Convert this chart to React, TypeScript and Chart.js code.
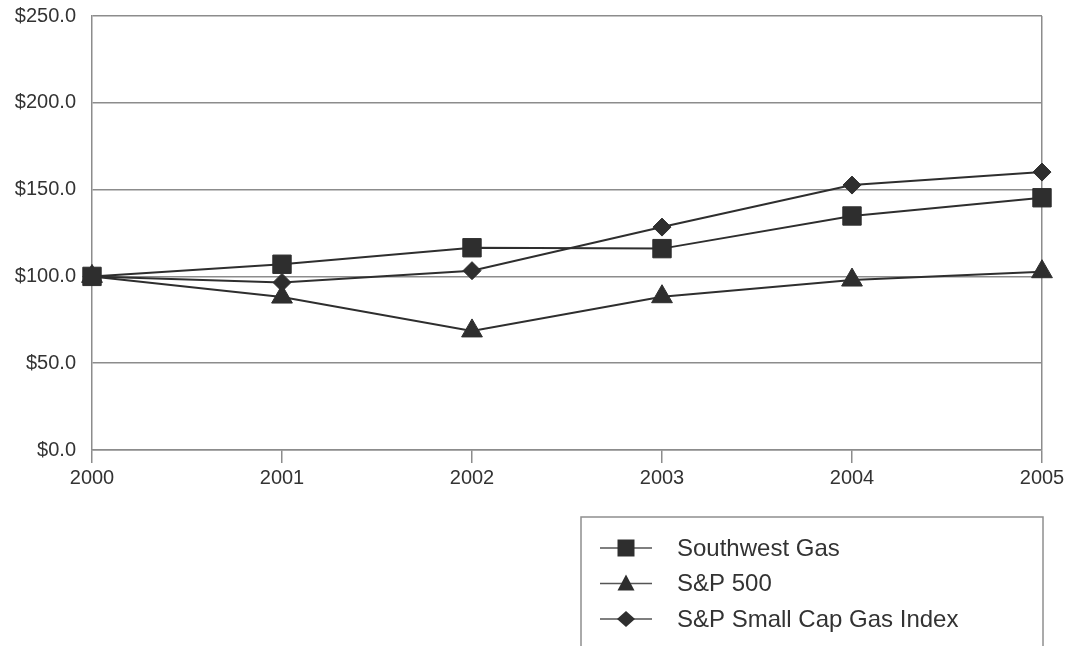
import React, { useEffect, useRef } from 'react';
import { Chart, registerables } from 'chart.js';

Chart.register(...registerables);

const years = ['2000', '2001', '2002', '2003', '2004', '2005'];
const southwestGas = [100, 107, 116.5, 116, 134.8, 145.3];
const sp500 = [100, 88.1, 68.6, 88.3, 97.9, 102.7];
const smallCapGas = [100, 96.5, 103.3, 128.4, 152.6, 160.1];
const seriesNames = ['Southwest Gas', 'S&P 500', 'S&P Small Cap Gas Index'];
const yMin = 0;
const yMax = 250;
const yStep = 50;

const INK = '#2e2e2e';
const GRID = '#8c8c8c';
const FONT = "'Liberation Sans', Arial, Helvetica, sans-serif";

type Shape = 'rect' | 'triangle' | 'rectRot';

function drawLegendMarker(ctx: CanvasRenderingContext2D, shape: Shape, x: number, y: number) {
  ctx.beginPath();
  if (shape === 'rect') {
    ctx.rect(x - 8.5, y - 8.5, 17, 17);
  } else if (shape === 'triangle') {
    ctx.moveTo(x, y - 9);
    ctx.lineTo(x + 8.5, y + 7);
    ctx.lineTo(x - 8.5, y + 7);
    ctx.closePath();
  } else {
    ctx.moveTo(x, y - 8);
    ctx.lineTo(x + 9, y);
    ctx.lineTo(x, y + 8);
    ctx.lineTo(x - 9, y);
    ctx.closePath();
  }
  ctx.fill();
}

const boxLegend = {
  id: 'boxLegend',
  afterDraw(chart: any) {
    const ctx: CanvasRenderingContext2D = chart.ctx;
    const area = chart.chartArea;
    const right = area.right + 1;
    const left = right - 462;
    const top = area.bottom + 67;
    ctx.save();
    ctx.strokeStyle = '#8f8f8f';
    ctx.lineWidth = 1.5;
    ctx.strokeRect(left, top, right - left, 220);
    chart.data.datasets.forEach((ds: any, i: number) => {
      const y = top + 31 + i * 35.5;
      ctx.strokeStyle = '#555';
      ctx.lineWidth = 1.5;
      ctx.beginPath();
      ctx.moveTo(left + 19, y);
      ctx.lineTo(left + 71, y);
      ctx.stroke();
      ctx.fillStyle = INK;
      drawLegendMarker(ctx, ds.pointStyle as Shape, left + 45, y);
      ctx.fillStyle = '#333';
      ctx.font = `24px ${FONT}`;
      ctx.textBaseline = 'middle';
      ctx.textAlign = 'left';
      ctx.fillText(ds.label, left + 96, y + 1);
    });
    ctx.restore();
  },
};

export default function App() {
  const ref = useRef<HTMLCanvasElement | null>(null);

  useEffect(() => {
    if (!ref.current) return;
    const mk = (label: string, data: number[], style: Shape, radius: number) => ({
      label,
      data,
      borderColor: INK,
      backgroundColor: INK,
      borderWidth: 2,
      pointStyle: style,
      pointRadius: radius,
      pointBackgroundColor: INK,
      pointBorderColor: INK,
      pointBorderWidth: 1,
      tension: 0,
      fill: false,
    });
    const chart = new Chart(ref.current, {
      type: 'line',
      data: {
        labels: years,
        datasets: [
          mk(seriesNames[0], southwestGas, 'rect', 13),
          mk(seriesNames[1], sp500, 'triangle', 12),
          mk(seriesNames[2], smallCapGas, 'rectRot', 9),
        ],
      },
      options: {
        responsive: false,
        animation: false,
        devicePixelRatio: 1,
        layout: { padding: { top: 16, right: 26, left: 0, bottom: 156 } },
        plugins: {
          legend: { display: false },
          tooltip: { enabled: false },
        },
        scales: {
          x: {
            type: 'category',
            offset: false,
            afterFit: (s: any) => { s.height = 40; },
            grid: {
              display: true,
              drawOnChartArea: true,
              drawTicks: true,
              tickLength: 13,
              color: (c: any) => (c.index === years.length - 1 ? GRID : 'rgba(0,0,0,0)'),
              tickColor: GRID,
              lineWidth: 1.5,
            },
            border: { display: true, color: GRID, width: 1.5 },
            ticks: {
              color: '#333',
              padding: 3,
              maxRotation: 0,
              autoSkip: false,
              font: { family: FONT, size: 20 },
            },
          },
          y: {
            min: yMin,
            max: yMax,
            afterFit: (s: any) => { s.width = 92; },
            grid: {
              color: GRID,
              lineWidth: 1.5,
              drawTicks: true,
              tickLength: 16,
              tickColor: 'rgba(0,0,0,0)',
            },
            border: { display: true, color: GRID, width: 1.5 },
            ticks: {
              stepSize: yStep,
              color: '#333',
              padding: 0,
              font: { family: FONT, size: 20 },
              callback: (v: any) => '$' + Number(v).toFixed(1),
            },
          },
        },
      },
      plugins: [boxLegend],
    });
    return () => chart.destroy();
  }, []);

  return (
    <div style={{ position: 'absolute', left: 0, top: 0, width: 1068, height: 646, background: '#fff' }}>
      <canvas ref={ref} width={1068} height={646} style={{ display: 'block', width: 1068, height: 646 }} />
    </div>
  );
}
